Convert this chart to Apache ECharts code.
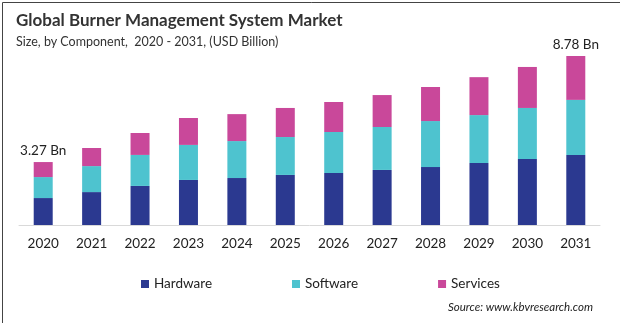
<!DOCTYPE html>
<html>
<head>
<meta charset="utf-8">
<script src="https://cdn.jsdelivr.net/npm/echarts@6/dist/echarts.min.js"></script>
<style>
html,body{margin:0;padding:0;background:#fff;}
#c{width:620px;height:323px;}
</style>
</head>
<body>
<div id="c"></div>
<script>
const years = ['2020','2021','2022','2023','2024','2025','2026','2027','2028','2029','2030','2031'];
const hardware = [1.40,1.71,2.03,2.34,2.44,2.60,2.70,2.86,3.01,3.22,3.43,3.64];
const software = [1.09,1.35,1.61,1.82,1.92,1.97,2.13,2.23,2.39,2.49,2.65,2.86];
const services = [0.78,0.94,1.14,1.40,1.40,1.51,1.56,1.66,1.77,1.97,2.13,2.28];
const totalLabels = ['3.27 Bn','','','','','','','','','','','8.78 Bn'];

const font = 'Lato, "Open Sans", sans-serif';
const chart = echarts.init(document.getElementById('c'), null, {renderer:'canvas'});
chart.setOption({
  animation:false,
  backgroundColor:'#fff',
  textStyle:{fontFamily:font},
  title:[
    {text:'Global Burner Management System Market', left:11, top:7,
     textStyle:{fontSize:17, fontWeight:'bold', color:'#333', fontFamily:font}},
    {text:'Size, by Component,  2020 - 2031, (USD Billion)', left:11, top:30,
     textStyle:{fontSize:12.5, fontWeight:'normal', color:'#333', fontFamily:font}},
    {text:'Source: www.kbvresearch.com', right:22, top:296,
     textStyle:{fontSize:11.5, fontStyle:'italic', fontWeight:'normal', color:'#222', fontFamily:font}}
  ],
  legend:{
    data:['Hardware','Software','Services'],
    left:136, top:272, icon:'rect', itemWidth:8, itemHeight:8, itemGap:80,
    textStyle:{fontSize:13.5, color:'#222', fontFamily:font}
  },
  grid:{left:19, right:20, top:32.5, bottom:98},
  xAxis:{
    type:'category', data:years,
    axisLine:{lineStyle:{color:'#d9d9d9'}},
    axisTick:{show:false},
    axisLabel:{fontSize:13.5, color:'#222', margin:12, fontFamily:font}
  },
  yAxis:{type:'value', min:0, max:10, show:false, splitLine:{show:false}},
  series:[
    {name:'Hardware', type:'bar', stack:'t', data:hardware, barWidth:19,
     itemStyle:{color:'#2B3990'}},
    {name:'Software', type:'bar', stack:'t', data:software, barWidth:19,
     itemStyle:{color:'#4EC3CF'}},
    {name:'Services', type:'bar', stack:'t', data:services, barWidth:19,
     itemStyle:{color:'#C9489A'},
     label:{show:true, position:'top', distance:4, fontSize:13.5, color:'#222', fontFamily:font,
       formatter:p=>totalLabels[p.dataIndex]}}
  ],
  graphic:[
    {type:'rect', left:0, top:0, shape:{width:619, height:322},
     style:{fill:'none', stroke:'#444', lineWidth:1}}
  ]
});
</script>
</body>
</html>
